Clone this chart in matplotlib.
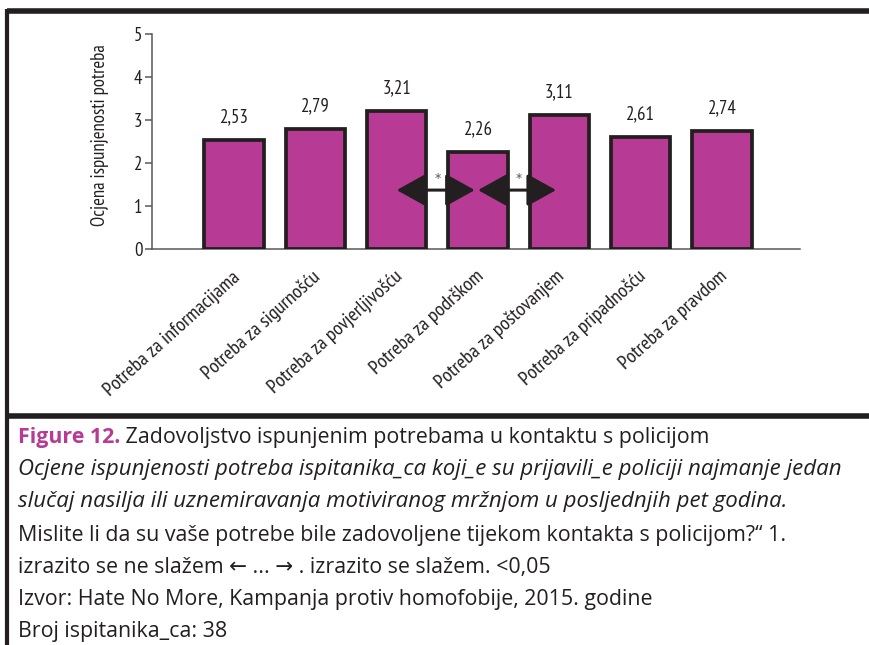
import matplotlib
matplotlib.use("Agg")
import matplotlib.pyplot as plt
from matplotlib.lines import Line2D
from matplotlib import font_manager as fm
import matplotlib.transforms as mtransforms

categories = ["Potreba za informacijama", "Potreba za sigurnošću", "Potreba za povjerljivošću",
              "Potreba za podrškom", "Potreba za poštovanjem", "Potreba za pripadnošću",
              "Potreba za pravdom"]
values = [2.53, 2.79, 3.21, 2.26, 3.11, 2.61, 2.74]
value_labels = ["2,53", "2,79", "3,21", "2,26", "3,11", "2,61", "2,74"]
y_ticks = [0, 1, 2, 3, 4, 5]
y_label = "Ocjena ispunjenosti potreba"
# significant pairs (from index, to index)
sig_pairs = [(2, 3), (3, 4)]

caption_head = "Figure 12."
caption_title = " Zadovoljstvo ispunjenim potrebama u kontaktu s policijom"
caption_italic = ["Ocjene ispunjenosti potreba ispitanika_ca koji_e su prijavili_e policiji najmanje jedan",
                  "slučaj nasilja ili uznemiravanja motiviranog mržnjom u posljednjih pet godina."]
caption_rest = ["Mislite li da su vaše potrebe bile zadovoljene tijekom kontakta s policijom?\u201c 1.",
                "izrazito se ne slažem \u2190 ... \u2192 . izrazito se slažem. <0,05",
                "Izvor: Hate No More, Kampanja protiv homofobije, 2015. godine",
                "Broj ispitanika_ca: 38"]

BAR = "#b73b94"
DARK = "#231f20"
AXC = "#58595b"

names = {f.name for f in fm.fontManager.ttflist}
def pick(cands):
    for c in cands:
        if c in names:
            return c
    return "DejaVu Sans"
narrow = pick(["PT Sans Narrow", "Roboto Condensed", "Archivo Narrow", "Asap Condensed"])
capfont = pick(["Open Sans", "Roboto"])
NF = [narrow, "DejaVu Sans"]
CF = [capfont, "DejaVu Sans"]

W, H, DPI = 869, 645, 100
fig = plt.figure(figsize=(W / DPI, H / DPI), dpi=DPI)

# axes placement
ax_l, ax_r, ax_b, ax_t = 152, 800, 249, 34
ax = fig.add_axes([ax_l / W, 1 - ax_b / H, (ax_r - ax_l) / W, (ax_b - ax_t) / H])

x = list(range(len(categories)))
ax.bar(x, values, width=0.73, color=BAR, edgecolor=DARK, linewidth=2.7, zorder=3)
ax.set_xlim(-1.01, 6.96)
ax.set_ylim(0, 5)

for xi, v, lab in zip(x, values, value_labels):
    ax.annotate(lab, xy=(xi, v), xytext=(0, 16.5), textcoords="offset points",
                ha="center", va="center", fontsize=13.5, family=NF, color=DARK)

for s in ["top", "right"]:
    ax.spines[s].set_visible(False)
for s in ["left", "bottom"]:
    ax.spines[s].set_color(AXC)
    ax.spines[s].set_linewidth(1.1)

ax.set_yticks(y_ticks)
ax.set_yticklabels([str(t) for t in y_ticks], family=NF, fontsize=13.5, color=DARK)
ax.tick_params(axis="y", length=5, width=1.1, color=AXC, pad=2)
ax.set_xticks(x)
ax.set_xticklabels(categories, rotation=42, ha="right", va="center", rotation_mode="anchor",
                   family=NF, fontsize=14.5, color=DARK)
ax.tick_params(axis="x", length=0, pad=18)
shift = mtransforms.ScaledTranslation(2 / 72, 0, fig.dpi_scale_trans)
for lbl in ax.get_xticklabels():
    lbl.set_transform(lbl.get_transform() + shift)
ax.set_ylabel(y_label, family=NF, fontsize=13.5, color=DARK)
ax.yaxis.set_label_coords(-0.066, 0.53)

# significance arrows
arrow_y = 1.37
for a, b in sig_pairs:
    ax.annotate("", xy=(b - 0.04, arrow_y), xytext=(a, arrow_y),
                arrowprops=dict(arrowstyle="<|-|>,head_length=0.9,head_width=0.5",
                                mutation_scale=20, color=DARK, lw=2.2,
                                shrinkA=0, shrinkB=0), zorder=5)
    ax.text((a + b) / 2, arrow_y + 0.28, "*", ha="center", va="center",
            fontsize=9, color="#555555", zorder=5)

# frame lines
fig.add_artist(Line2D([7 / W, 1], [1 - 10.5 / H, 1 - 10.5 / H], color=DARK, lw=4, solid_capstyle="butt"))
fig.add_artist(Line2D([5 / W, 1], [1 - 416 / H, 1 - 416 / H], color=DARK, lw=4, solid_capstyle="butt"))
fig.add_artist(Line2D([6.5 / W, 6.5 / W], [1 - 8.5 / H, 0], color=DARK, lw=3, solid_capstyle="butt"))

# caption
cx = 18 / W
line_y = [438, 470, 502, 535, 567, 599, 631]
cfs = 15.4
cfs_it = 16.0
head = fig.text(cx, 1 - line_y[0] / H, caption_head, ha="left", va="center", fontsize=cfs,
                family=CF, weight="bold", color=BAR)
fig.canvas.draw()
bb = head.get_window_extent()
fig.text(bb.x1 / W, 1 - line_y[0] / H, caption_title, ha="left", va="center", fontsize=cfs,
         family=CF, color=DARK)
for i, t in enumerate(caption_italic):
    fig.text(cx, 1 - line_y[1 + i] / H, t, ha="left", va="center", fontsize=cfs_it,
             family=CF, style="italic", color=DARK)
for i, t in enumerate(caption_rest):
    fig.text(cx, 1 - line_y[3 + i] / H, t, ha="left", va="center", fontsize=cfs,
             family=CF, color=DARK)

fig.savefig("out.png", dpi=DPI)
